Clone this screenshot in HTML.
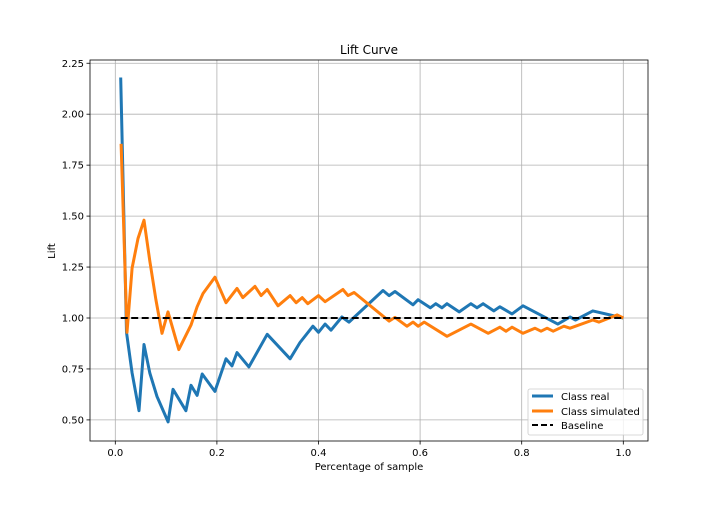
<!DOCTYPE html>
<html><head><meta charset="utf-8"><style>
body{margin:0;background:#fff;}
svg text{font-family:"DejaVu Sans","Liberation Sans",sans-serif;fill:#000;}
</style></head><body>
<svg id="chart" width="720" height="504" xmlns="http://www.w3.org/2000/svg">
<rect x="0" y="0" width="720" height="504" fill="#fff"/>
<g id="grid"></g>
<g id="series"></g>
<rect x="90" y="60" width="558" height="381" fill="none" stroke="#000" stroke-width="0.8"/>
<g id="ticks"></g>
<text x="369" y="54" font-size="12" text-anchor="middle">Lift Curve</text>
<text x="369" y="470" font-size="10" text-anchor="middle">Percentage of sample</text>
<text x="55" y="251" font-size="10" text-anchor="middle" transform="rotate(-90 55 251)">Lift</text>
<g>
<rect x="528" y="389" width="115" height="46" fill="#fff" fill-opacity="0.8" stroke="#ccc" stroke-width="0.8" rx="2"/>
<g><line x1="532" y1="396" x2="553" y2="396" stroke="#1f77b4" stroke-width="3"/><text x="561" y="400" font-size="10">Class real</text></g>
<g><line x1="532" y1="411" x2="553" y2="411" stroke="#ff7f0e" stroke-width="3"/><text x="561" y="415" font-size="10">Class simulated</text></g>
<g><line x1="532" y1="425" x2="553" y2="425" stroke="#000" stroke-width="2" stroke-dasharray="6,3"/><text x="561" y="429" font-size="10">Baseline</text></g>
</g>
</svg>
<script>
const xTicks=[0.0,0.2,0.4,0.6,0.8,1.0];
const xTickLabels=["0.0","0.2","0.4","0.6","0.8","1.0"];
const yTicks=[0.5,0.75,1.0,1.25,1.5,1.75,2.0,2.25];
const yTickLabels=["0.50","0.75","1.00","1.25","1.50","1.75","2.00","2.25"];
const realX=[0.0106,0.022,0.033,0.0467,0.0565,0.068,0.082,0.104,0.1136,0.139,0.149,0.161,0.171,0.196,0.218,0.2297,0.2396,0.263,0.299,0.344,0.3636,0.389,0.4,0.413,0.4246,0.446,0.46,0.527,0.539,0.5506,0.586,0.596,0.62,0.631,0.643,0.653,0.677,0.7,0.712,0.724,0.745,0.757,0.781,0.8026,0.871,0.895,0.906,0.94,1.0];
const realY=[2.18,0.93,0.73,0.545,0.87,0.73,0.615,0.49,0.65,0.545,0.67,0.62,0.725,0.64,0.80,0.765,0.83,0.76,0.92,0.80,0.88,0.96,0.93,0.97,0.94,1.005,0.98,1.135,1.11,1.13,1.065,1.09,1.05,1.07,1.05,1.07,1.03,1.07,1.05,1.07,1.035,1.055,1.02,1.06,0.97,1.005,0.99,1.035,1.0];
const simX=[0.0114,0.023,0.033,0.0447,0.0565,0.068,0.080,0.092,0.1037,0.125,0.149,0.161,0.1726,0.196,0.218,0.2396,0.251,0.275,0.287,0.299,0.3203,0.344,0.356,0.368,0.379,0.4,0.413,0.448,0.458,0.47,0.539,0.5506,0.574,0.586,0.596,0.608,0.653,0.7,0.734,0.757,0.769,0.781,0.8026,0.826,0.838,0.85,0.862,0.883,0.895,0.94,0.952,0.988,1.0];
const simY=[1.855,0.93,1.245,1.39,1.48,1.28,1.09,0.925,1.03,0.845,0.965,1.055,1.12,1.20,1.075,1.145,1.10,1.155,1.11,1.14,1.06,1.11,1.075,1.10,1.07,1.11,1.08,1.14,1.11,1.125,0.985,1.003,0.96,0.98,0.96,0.98,0.91,0.97,0.925,0.955,0.935,0.955,0.925,0.95,0.935,0.95,0.935,0.96,0.95,0.99,0.98,1.015,1.0];
const baseX=[0.0106,1.0];
const baseY=[1.0,1.0];
const NS="http://www.w3.org/2000/svg";
const X0=90,X1=648,Y0=60,Y1=441;
function sx(v){return 115.3+v*508;}
function sy(v){return 318-(v-1)*203.8;}
const grid=document.getElementById('grid'),ticks=document.getElementById('ticks'),series=document.getElementById('series');
function mk(tag,attrs,parent){const e=document.createElementNS(NS,tag);for(const k in attrs)e.setAttribute(k,attrs[k]);parent.appendChild(e);return e;}
xTicks.forEach((t,i)=>{
 const g=mk('line',{x1:sx(t),x2:sx(t),y1:Y0,y2:Y1,stroke:'#b0b0b0','stroke-width':0.8},grid);
 
 
 mk('line',{x1:sx(t),x2:sx(t),y1:Y1,y2:Y1+3.5,stroke:'#000','stroke-width':0.8},ticks);
 const tx=mk('text',{x:sx(t),y:Y1+15,'font-size':10,'text-anchor':'middle'},ticks);
 tx.textContent=xTickLabels[i];
 
 
});
yTicks.forEach((t,i)=>{
 const g=mk('line',{x1:X0,x2:X1,y1:sy(t),y2:sy(t),stroke:'#b0b0b0','stroke-width':0.8},grid);
 
 
 mk('line',{x1:X0-3.5,x2:X0,y1:sy(t),y2:sy(t),stroke:'#000','stroke-width':0.8},ticks);
 const tx=mk('text',{x:X0-6,y:sy(t)+3.5,'font-size':10,'text-anchor':'end'},ticks);
 tx.textContent=yTickLabels[i];
 
 
});
function pts(xs,ys){return xs.map((x,i)=>sx(x).toFixed(1)+','+sy(ys[i]).toFixed(1)).join(' ');}
const l1=mk('polyline',{points:pts(realX,realY),fill:'none',stroke:'#1f77b4','stroke-width':3,'stroke-linejoin':'round'},series);


const l2=mk('polyline',{points:pts(simX,simY),fill:'none',stroke:'#ff7f0e','stroke-width':3,'stroke-linejoin':'round'},series);


const l3=mk('polyline',{points:pts(baseX,baseY),fill:'none',stroke:'#000','stroke-width':2,'stroke-dasharray':'7,3.5'},series);


</script>
</body></html>
